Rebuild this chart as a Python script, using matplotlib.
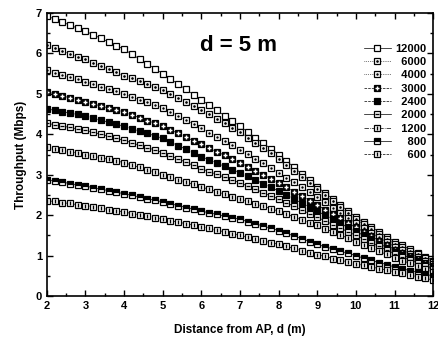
import numpy as np
import matplotlib
matplotlib.use("Agg")
import matplotlib.pyplot as plt
from matplotlib.ticker import MultipleLocator

plt.rcParams['font.family'] = ['Liberation Sans', 'DejaVu Sans']
plt.rcParams['font.weight'] = 'bold'

# distance from AP (m), one point every 0.2 m
dist = np.round(np.arange(2.0, 12.01, 0.2), 1)

labels = ['12000', '6000', '4000', '3000', '2400', '2000', '1200', '800', '600']

thr_12000 = [6.92, 6.85, 6.77, 6.70, 6.62, 6.55, 6.46, 6.37, 6.28, 6.19,
             6.10, 5.98, 5.86, 5.74, 5.62, 5.50, 5.37, 5.24, 5.11, 4.98,
             4.85, 4.72, 4.59, 4.46, 4.33, 4.20, 4.06, 3.92, 3.78, 3.64,
             3.50, 3.34, 3.18, 3.02, 2.86, 2.70, 2.55, 2.40, 2.25, 2.10,
             1.95, 1.83, 1.71, 1.59, 1.47, 1.35, 1.26, 1.16, 1.07, 0.97, 0.88]
thr_6000 = [6.20, 6.13, 6.06, 5.99, 5.92, 5.85, 5.77, 5.69, 5.61, 5.53,
            5.45, 5.38, 5.31, 5.24, 5.17, 5.10, 5.00, 4.90, 4.80, 4.70,
            4.60, 4.49, 4.38, 4.27, 4.16, 4.05, 3.92, 3.79, 3.66, 3.53,
            3.40, 3.25, 3.10, 2.95, 2.80, 2.65, 2.50, 2.35, 2.20, 2.05,
            1.90, 1.78, 1.66, 1.54, 1.42, 1.30, 1.21, 1.12, 1.03, 0.94, 0.85]
thr_4000 = [5.58, 5.52, 5.47, 5.41, 5.36, 5.30, 5.24, 5.18, 5.12, 5.06,
            5.00, 4.93, 4.86, 4.79, 4.72, 4.65, 4.55, 4.45, 4.35, 4.25,
            4.15, 4.04, 3.94, 3.83, 3.73, 3.62, 3.51, 3.39, 3.28, 3.16,
            3.05, 2.93, 2.81, 2.69, 2.57, 2.45, 2.32, 2.19, 2.06, 1.93,
            1.80, 1.68, 1.57, 1.45, 1.34, 1.22, 1.14, 1.05, 0.97, 0.88, 0.80]
thr_3000 = [5.05, 5.00, 4.95, 4.90, 4.85, 4.80, 4.75, 4.70, 4.65, 4.60,
            4.55, 4.48, 4.41, 4.34, 4.27, 4.20, 4.11, 4.02, 3.93, 3.84,
            3.75, 3.66, 3.57, 3.48, 3.39, 3.30, 3.20, 3.10, 3.00, 2.90,
            2.80, 2.69, 2.58, 2.47, 2.36, 2.25, 2.14, 2.03, 1.92, 1.81,
            1.70, 1.59, 1.48, 1.37, 1.26, 1.15, 1.07, 0.99, 0.91, 0.83, 0.75]
thr_2400 = [4.63, 4.59, 4.56, 4.52, 4.49, 4.45, 4.40, 4.35, 4.30, 4.25,
            4.20, 4.14, 4.08, 4.02, 3.96, 3.90, 3.81, 3.72, 3.63, 3.54,
            3.45, 3.37, 3.29, 3.21, 3.13, 3.05, 2.96, 2.87, 2.78, 2.69,
            2.60, 2.50, 2.40, 2.30, 2.20, 2.10, 2.00, 1.90, 1.80, 1.70,
            1.60, 1.50, 1.40, 1.30, 1.20, 1.10, 1.02, 0.94, 0.86, 0.78, 0.70]
thr_2000 = [4.27, 4.24, 4.20, 4.17, 4.13, 4.10, 4.05, 4.00, 3.95, 3.90,
            3.85, 3.79, 3.73, 3.67, 3.61, 3.55, 3.47, 3.39, 3.31, 3.23,
            3.15, 3.08, 3.01, 2.94, 2.87, 2.80, 2.72, 2.64, 2.56, 2.48,
            2.40, 2.31, 2.22, 2.13, 2.04, 1.95, 1.86, 1.77, 1.68, 1.59,
            1.50, 1.41, 1.32, 1.23, 1.14, 1.05, 0.97, 0.89, 0.82, 0.74, 0.66]
thr_1200 = [3.68, 3.64, 3.61, 3.57, 3.54, 3.50, 3.46, 3.42, 3.38, 3.34,
            3.30, 3.24, 3.18, 3.12, 3.06, 3.00, 2.94, 2.88, 2.82, 2.76,
            2.70, 2.64, 2.58, 2.52, 2.46, 2.40, 2.34, 2.28, 2.22, 2.16,
            2.10, 2.03, 1.96, 1.89, 1.82, 1.75, 1.67, 1.59, 1.51, 1.43,
            1.35, 1.27, 1.19, 1.11, 1.03, 0.95, 0.88, 0.81, 0.74, 0.67, 0.60]
thr_800 = [2.88, 2.85, 2.82, 2.78, 2.75, 2.72, 2.68, 2.64, 2.61, 2.57,
           2.53, 2.49, 2.45, 2.41, 2.37, 2.33, 2.28, 2.24, 2.19, 2.15,
           2.10, 2.06, 2.02, 1.98, 1.94, 1.90, 1.84, 1.79, 1.73, 1.68,
           1.62, 1.55, 1.49, 1.42, 1.35, 1.28, 1.22, 1.17, 1.11, 1.06,
           1.00, 0.94, 0.89, 0.83, 0.78, 0.72, 0.68, 0.63, 0.59, 0.54, 0.50]
thr_600 = [2.36, 2.34, 2.31, 2.29, 2.26, 2.24, 2.21, 2.18, 2.14, 2.11,
           2.08, 2.04, 2.01, 1.97, 1.94, 1.90, 1.86, 1.83, 1.79, 1.76,
           1.72, 1.68, 1.63, 1.59, 1.54, 1.50, 1.46, 1.41, 1.37, 1.32,
           1.28, 1.23, 1.18, 1.12, 1.07, 1.02, 0.98, 0.93, 0.89, 0.84,
           0.80, 0.76, 0.72, 0.68, 0.64, 0.60, 0.56, 0.52, 0.48, 0.44, 0.40]

series = [thr_12000, thr_6000, thr_4000, thr_3000, thr_2400,
          thr_2000, thr_1200, thr_800, thr_600]

# (line style, square face, fill style, overlay marker, overlay colour, overlay size)
styles = [
    ('-',  'white', 'full',   None, None, 0),
    (':',  'white', 'full',   '.',  'k', 1.8),
    (':',  'white', 'full',   '.',  'k', 1.5),
    ('--', 'k',     'full',   '+',  'white', 2.5),
    ('--', 'k',     'full',   None, None, 0),
    ('-',  'white', 'full',   '_',  'k', 3.5),
    ('-.', 'white', 'full',   '|',  'k', 3),
    ('-',  'k',     'top',    None, None, 0),
    ('--', 'white', 'full',   '|',  'k', 2.5),
]

fig = plt.figure(figsize=(4.38, 3.40), dpi=100)
ax = fig.add_axes([0.107, 0.129, 0.882, 0.833])

handles = []
for y, lab, st in zip(series, labels, styles):
    ls, face, fill, om, oc, osz = st
    h, = ax.plot(dist, y, linestyle=ls, color='k', linewidth=0.5,
                 marker='s', markersize=4.2, markerfacecolor=face,
                 markerfacecoloralt='white', fillstyle=fill,
                 markeredgecolor='k', markeredgewidth=0.9)
    hs = [h]
    if om is not None:
        o, = ax.plot(dist, y, linestyle='none', marker=om, markersize=osz,
                     color=oc, markeredgewidth=1.0)
        hs.append(o)
    handles.append(tuple(hs))

ax.set_xlim(2, 12)
ax.set_ylim(0, 7)
ax.xaxis.set_major_locator(MultipleLocator(1))
ax.xaxis.set_minor_locator(MultipleLocator(0.5))
ax.yaxis.set_major_locator(MultipleLocator(1))
ax.yaxis.set_minor_locator(MultipleLocator(0.5))
ax.tick_params(which='both', direction='in', top=True, right=True,
               labelsize=8, width=1)
ax.tick_params(which='major', length=4)
ax.tick_params(which='minor', length=2)
for s in ax.spines.values():
    s.set_linewidth(1.2)

ax.set_xlabel('Distance from AP, d (m)', fontsize=8.5, fontweight='bold', labelpad=9)
ax.set_ylabel('Throughput (Mbps)', fontsize=8.5, fontweight='bold', labelpad=6)

ax.text(0.495, 0.885, 'd = 5 m', transform=ax.transAxes, fontsize=16,
        fontweight='bold', ha='center', va='center')

pad_labels = [l.rjust(5, '\u2007') for l in labels]
leg = ax.legend(handles, pad_labels, loc='upper right', bbox_to_anchor=(1.0, 0.915),
                frameon=False, fontsize=8, handlelength=2.4, handletextpad=0.4,
                labelspacing=0.3, borderaxespad=0.2)

fig.savefig('out.png', dpi=100)
